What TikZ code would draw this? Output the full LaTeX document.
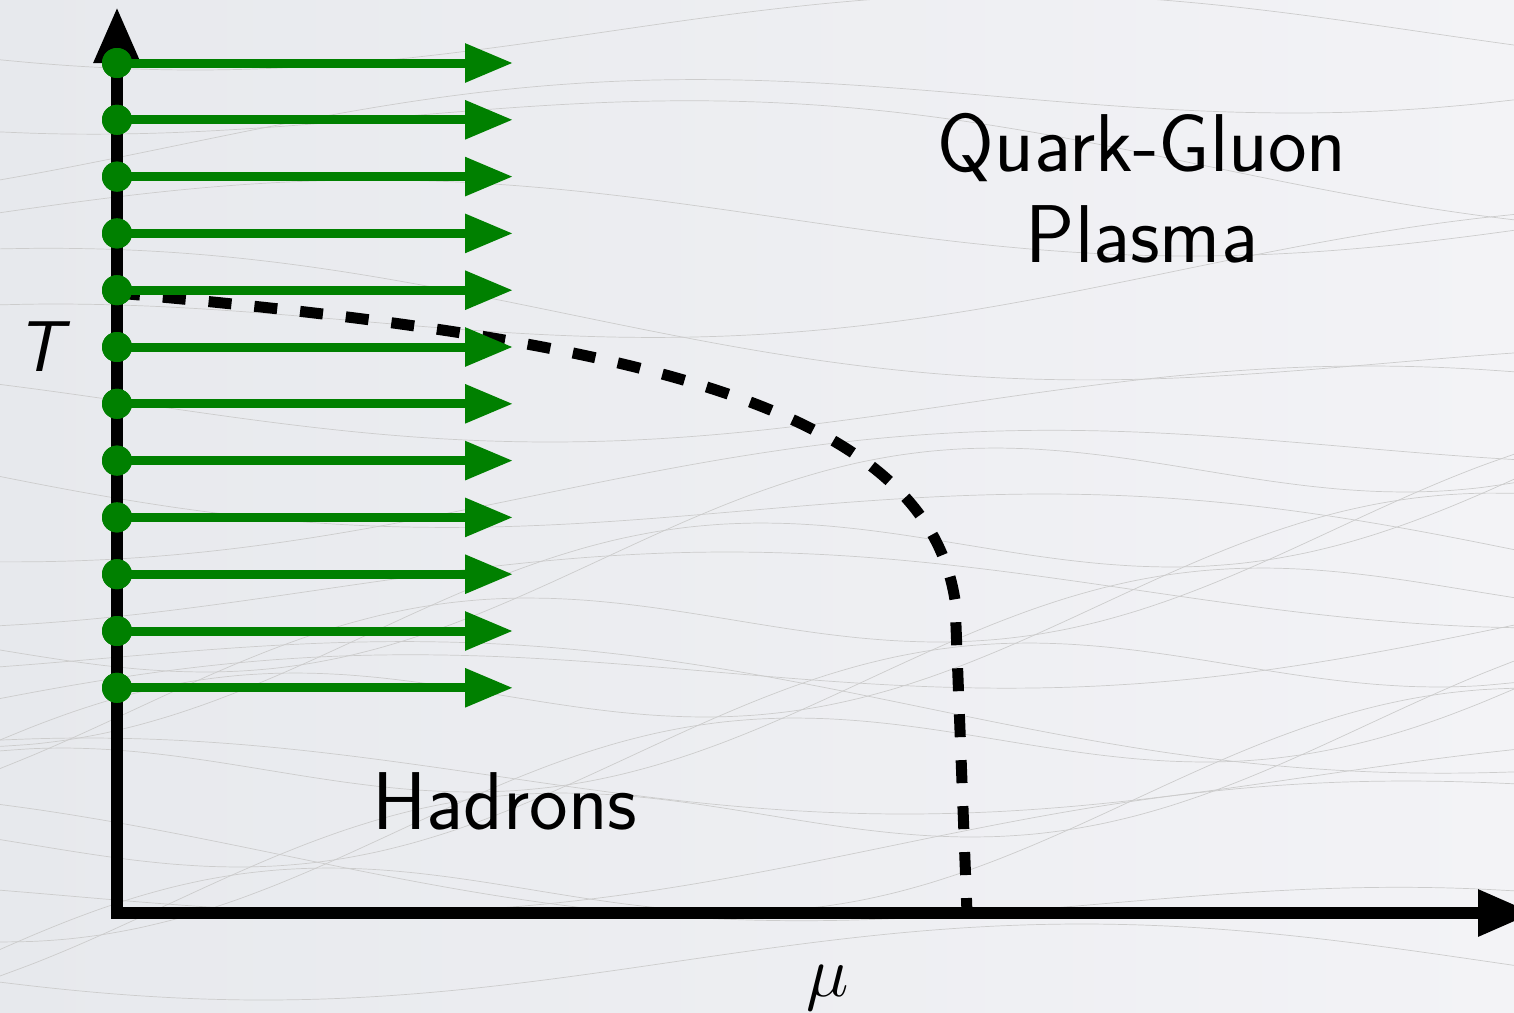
\RequirePackage{fix-cm}
\documentclass[tikz,border=0pt]{standalone}
\usetikzlibrary{arrows.meta}
\definecolor{qgreen}{RGB}{0,128,0}
\definecolor{bgL}{RGB}{231,233,237}
\definecolor{bgR}{RGB}{243,243,246}
\begin{document}
\begin{tikzpicture}[x=1pt,y=-1pt,
  bgline/.style={black!20,line width=0.7pt},
  axisline/.style={line width=12pt},
  flowarrow/.style={qgreen,line width=9pt,-{Triangle[length=48pt,width=37pt]}},
  dotnode/.style={circle,fill=qgreen,inner sep=0pt,minimum size=30pt},
  boundary/.style={line width=11pt,dash pattern=on 23pt off 23pt},
  biglabel/.style={font=\sffamily\fontsize{82}{91}\selectfont,align=center,inner sep=0pt}]
\useasboundingbox (0,0) rectangle (1514,1012);
\clip (0,0) rectangle (1514,1012);
\shade[left color=bgL,right color=bgR] (0,0) rectangle (1514,1012);
% faint background lines
\foreach \k in {0,...,17}{
  \draw[bgline] plot[smooth,domain=0:1514,samples=45]
    (\x,{-30+62*\k+38*sin(0.22*\x+47*\k)+(mod(\k,3)-1)*0.06*\x});
}
\foreach \k in {0,...,8}{
  \draw[bgline] plot[smooth,domain=0:1514,samples=45]
    (\x,{650+40*\k-0.15*\x+60*sin(0.3*\x+70*\k)});
}
% axes
\coordinate (origin) at (117,913);
\coordinate (ytip) at (117,7);
\coordinate (xstart) at (111,913);
\coordinate (xtip) at (1534,913);
\draw[axisline,-{Triangle[length=56pt,width=44pt]}] (origin) -- (ytip);
\draw[axisline,-{Triangle[length=56pt,width=44pt]}] (xstart) -- (xtip);
% phase boundary
\coordinate (b0) at (117,293);
\coordinate (b1) at (955,600);
\coordinate (b2) at (967,913);
\draw[boundary] (b0) .. controls (650,340) and (925,410) .. (b1) -- (b2);
% green arrows
\foreach \i in {1,...,12}{
  \pgfmathsetmacro{\yy}{63+(\i-1)*56.8}
  \node[dotnode] (d\i) at (117,\yy) {};
  \coordinate (e\i) at (513,\yy);
  \draw[flowarrow] (d\i.center) -- (e\i);
}
\foreach \i in {1,...,12}{ \node[dotnode] at (d\i) {}; }
% labels
\node[biglabel] (qgp) at (1142,188) {Quark-Gluon\\Plasma};
\node[biglabel] (had) at (505,801) {Hadrons};
\node[inner sep=0pt,font=\sffamily\itshape\fontsize{72}{80}\selectfont] (T) at (40,347) {T};
\node[inner sep=0pt,font=\fontsize{72}{80}\selectfont] (mu) at (828,988) {$\mu$};
\end{tikzpicture}
\end{document}
